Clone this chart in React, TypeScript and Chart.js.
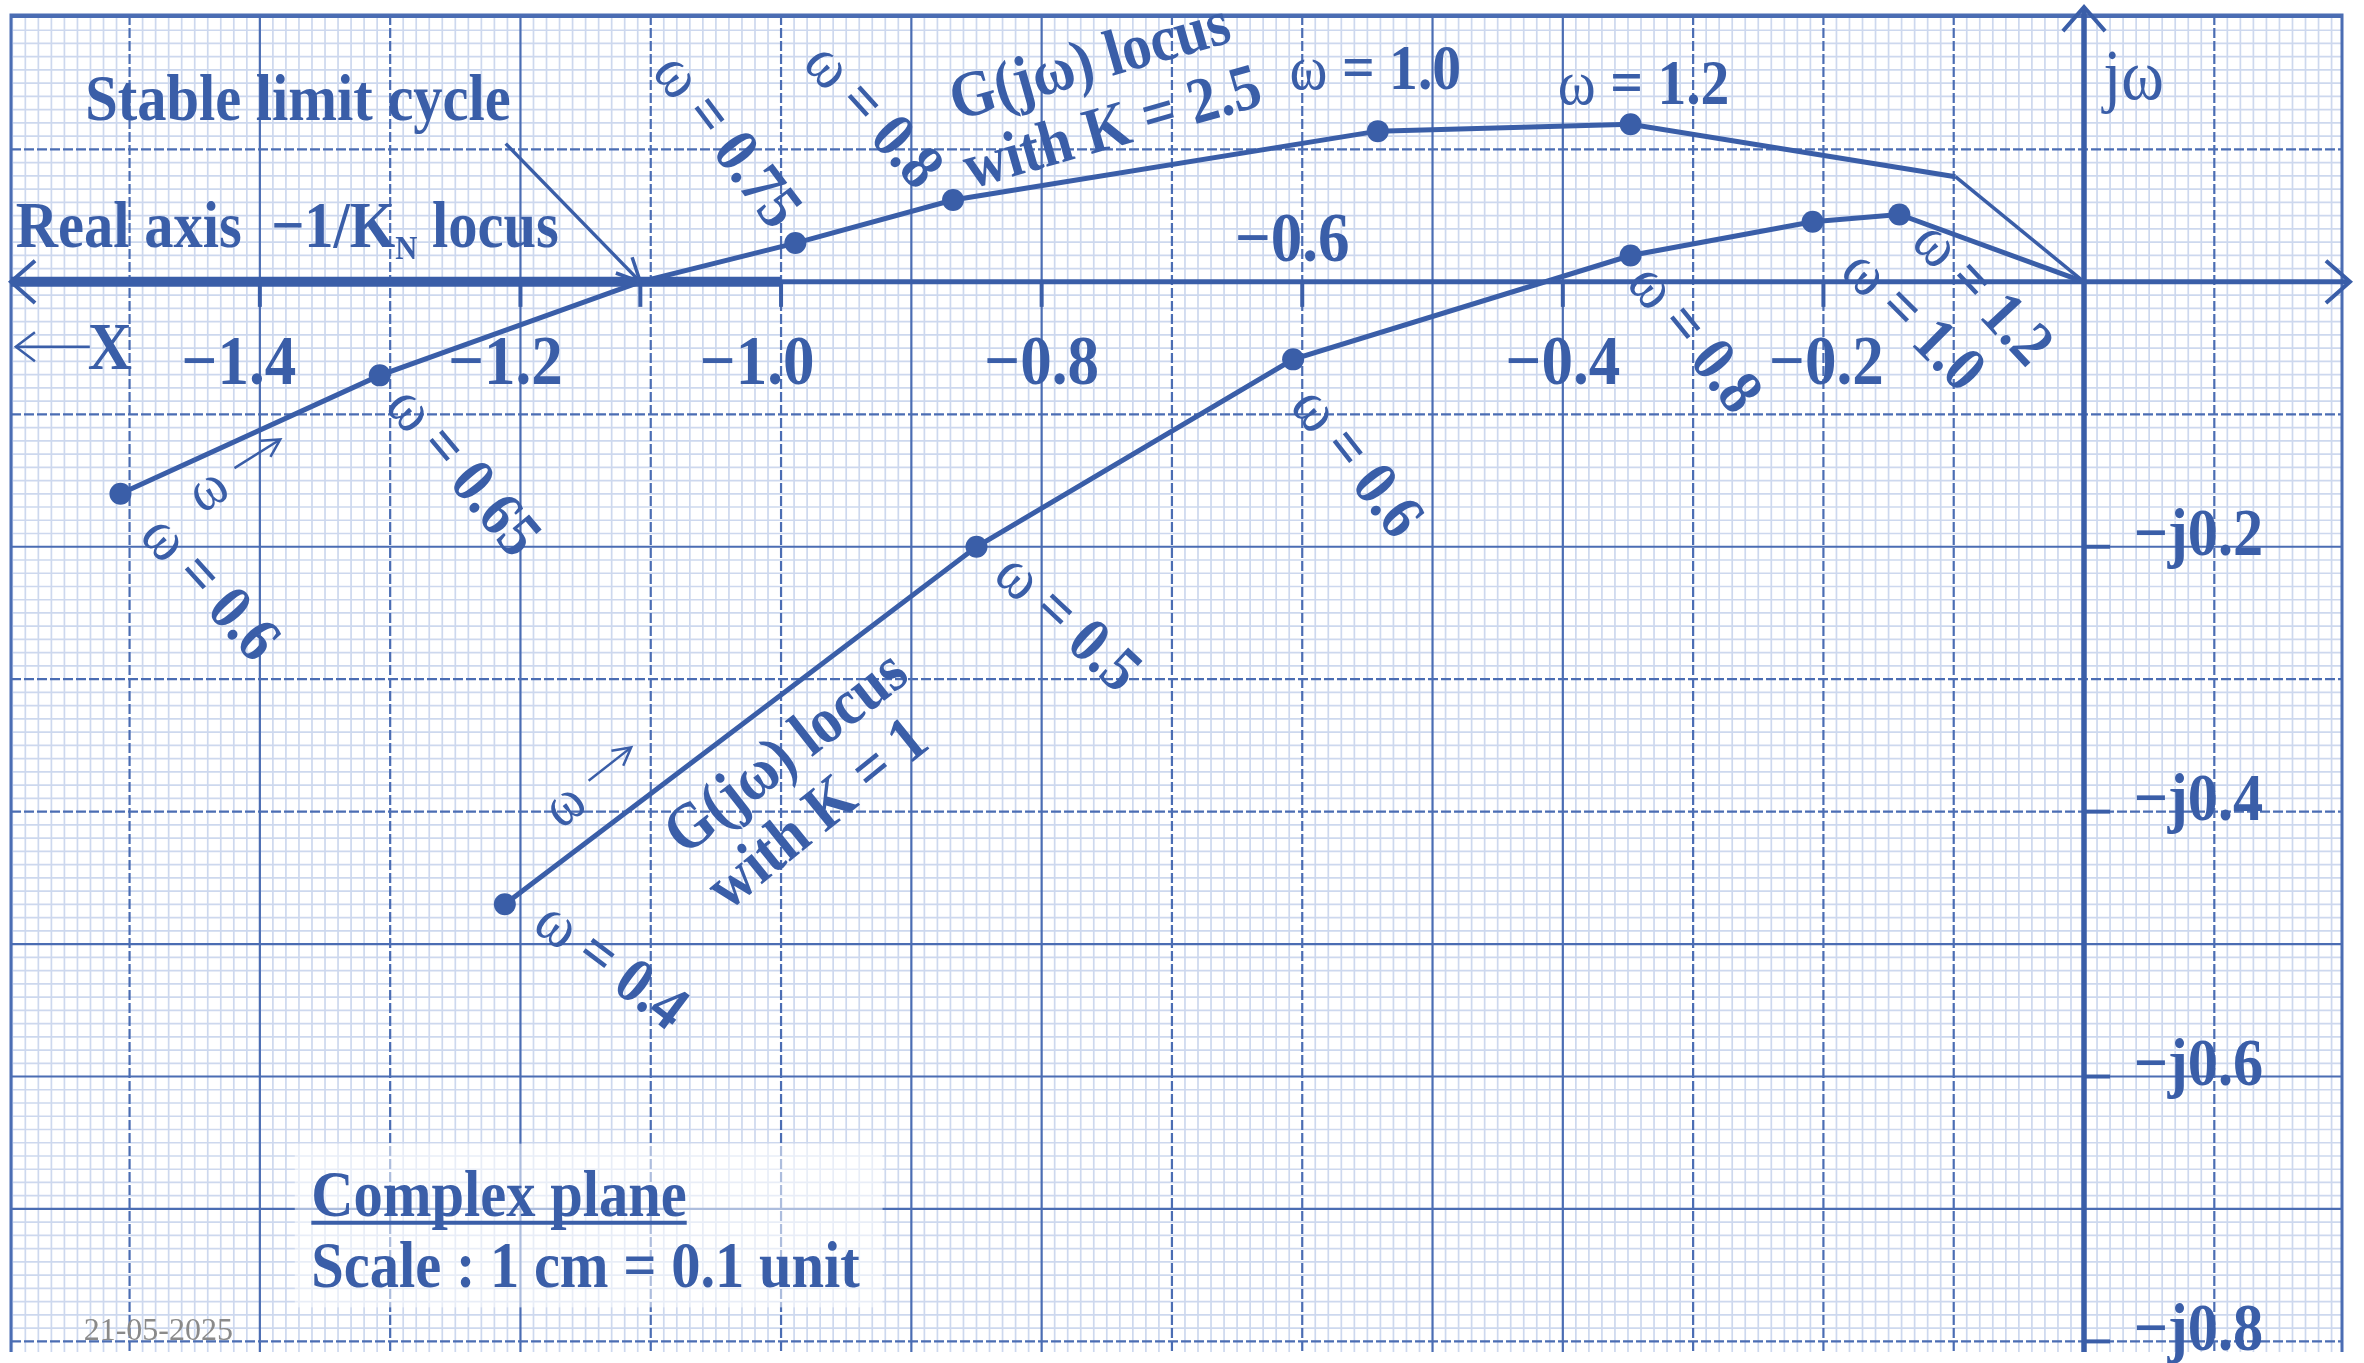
import { useEffect, useRef } from "react";
import { Chart, registerables } from "chart.js";

Chart.register(...registerables);

// Visible window of the complex plane (real part, imaginary part)
const X_MIN = -1.591;
const X_MAX = 0.198;
const Y_MIN = -0.808;
const Y_MAX = 0.2015;

// G(jω) locus with K = 2.5 (ω = 0.6 … 1.2, then on to the origin)
const k25Re = [-1.507, -1.308, -1.108, -0.989, -0.868, -0.542, -0.348, -0.0987, 0];
const k25Im = [-0.16, -0.0706, 0, 0.0293, 0.0618, 0.1138, 0.119, 0.0794, 0];
const k25Marked = [true, true, false, true, true, true, true, false, false];

// G(jω) locus with K = 1 (ω = 0.4 … 1.2, then on to the origin)
const k1Re = [-1.212, -0.85, -0.607, -0.348, -0.2083, -0.1417, 0];
const k1Im = [-0.47, -0.2, -0.0585, 0.0199, 0.0454, 0.0509, 0];
const k1Marked = [true, true, true, true, true, true, false];

// −1/K_N locus lies on the negative real axis up to −1
const nlRe = [-1.7, -1.0];
const nlIm = [0, 0];

// Stable limit cycle: where the K = 2.5 locus crosses the −1/K_N locus
const limitCycleIndex = 2;

// Axis ticks
const realTicks = [-1.4, -1.2, -1.0, -0.8, -0.6, -0.4, -0.2];
const realTickLabels = ["−1.4", "−1.2", "−1.0", "−0.8", "−0.6", "−0.4", "−0.2"];
const realTickAbove = [false, false, false, false, true, false, false];
const realTickNudge = [-21, -15, -24, 0, -10, 0, 3];
const imagTicks = [-0.2, -0.4, -0.6, -0.8];
const imagTickLabels = ["−j0.2", "−j0.4", "−j0.6", "−j0.8"];

// Major grid lines drawn dashed (in tenths)
const dashedCols = [-15, -13, -11, -10, -7, -6, -3, -2, -1, 1];
const dashedRows = [1, -1, -3, -4, -8];

// Frequency annotations: text, anchor (re, im), rotation in degrees
const omegaLabels: [string, number, number, number][] = [
  ["0.6", -1.4368, -0.2298, 48],
  ["0.65", -1.2426, -0.1418, 50],
  ["0.75", -1.0401, 0.1078, 53],
  ["0.8", -0.9279, 0.1269, 48],
  ["0.8", -0.2976, -0.0413, 51],
  ["1.0", -0.1298, -0.0277, 45],
  ["1.2", -0.0766, -0.0074, 47],
  ["0.6", -0.5567, -0.135, 52],
  ["0.5", -0.7787, -0.2558, 43],
  ["0.4", -1.1292, -0.5144, 37],
  ["1.0", -0.5439, 0.162, 0],
  ["1.2", -0.338, 0.1507, 0],
];

const BLUE = "#3a5ea8";
const MAJOR = "#4b6db3";
const MINOR = "#cdd8ee";
const SERIF = '"Liberation Serif", "Times New Roman", "DejaVu Serif", serif';
const B = (s: number) => `bold ${s}px ${SERIF}`;
const R = (s: number) => `${s}px ${SERIF}`;
// the lettering is set slightly condensed
const SQUEEZE = 0.9;
// optical drop so the glyphs sit centred on their anchor
const TEXT_DROP = 5;

type Part = { t: string; f: string; dy?: number };

function drawParts(
  ctx: CanvasRenderingContext2D,
  parts: Part[],
  x: number,
  y: number,
  angle: number,
  align: "left" | "center",
  sx: number = SQUEEZE
) {
  ctx.save();
  ctx.translate(x, y);
  ctx.rotate((angle * Math.PI) / 180);
  ctx.scale(sx, 1);
  ctx.textBaseline = "middle";
  ctx.textAlign = "left";
  const widths = parts.map((p) => {
    ctx.font = p.f;
    return ctx.measureText(p.t).width;
  });
  const total = widths.reduce((a, b) => a + b, 0);
  let cx = align === "center" ? -total / 2 : 0;
  parts.forEach((p, i) => {
    ctx.font = p.f;
    ctx.fillText(p.t, cx, (p.dy || 0) + TEXT_DROP);
    cx += widths[i];
  });
  ctx.restore();
  return total * sx;
}

function seg(ctx: CanvasRenderingContext2D, x1: number, y1: number, x2: number, y2: number) {
  ctx.beginPath();
  ctx.moveTo(x1, y1);
  ctx.lineTo(x2, y2);
  ctx.stroke();
}

function openHead(ctx: CanvasRenderingContext2D, tx: number, ty: number, fx: number, fy: number, len: number, spread: number) {
  const a = Math.atan2(ty - fy, tx - fx);
  ctx.beginPath();
  ctx.moveTo(tx - len * Math.cos(a - spread), ty - len * Math.sin(a - spread));
  ctx.lineTo(tx, ty);
  ctx.lineTo(tx - len * Math.cos(a + spread), ty - len * Math.sin(a + spread));
  ctx.stroke();
}

// "ω →" marker showing the direction of increasing frequency
function omegaArrow(ctx: CanvasRenderingContext2D, x: number, y: number, angle: number) {
  ctx.save();
  ctx.translate(x, y);
  ctx.rotate((angle * Math.PI) / 180);
  ctx.font = R(60);
  ctx.textBaseline = "middle";
  ctx.textAlign = "center";
  ctx.save();
  ctx.scale(SQUEEZE, 1);
  ctx.fillText("ω", -34 / SQUEEZE, 6);
  ctx.restore();
  ctx.lineWidth = 2.5;
  seg(ctx, 0, 0, 52, 0);
  openHead(ctx, 54, 0, 0, 0, 20, 0.5);
  ctx.restore();
}

const paperPlugin = {
  id: "graphPaper",
  beforeDatasetsDraw(chart: any) {
    const { ctx, chartArea: a } = chart;
    const xs = chart.scales.x;
    const ys = chart.scales.y;
    const X = (v: number) => xs.getPixelForValue(v);
    const Y = (v: number) => ys.getPixelForValue(v);
    ctx.save();
    ctx.fillStyle = "#ffffff";
    ctx.fillRect(0, 0, chart.width, chart.height);

    // millimetre lines
    ctx.strokeStyle = MINOR;
    ctx.lineWidth = 1.7;
    for (let i = Math.ceil(X_MIN * 100); i <= Math.floor(X_MAX * 100); i++) {
      if (i % 10 === 0) continue;
      const px = X(i / 100);
      seg(ctx, px, a.top, px, a.bottom);
    }
    for (let j = Math.ceil(Y_MIN * 100); j <= Math.floor(Y_MAX * 100); j++) {
      if (j % 10 === 0) continue;
      const py = Y(j / 100);
      seg(ctx, a.left, py, a.right, py);
    }

    // centimetre lines
    ctx.strokeStyle = MAJOR;
    ctx.lineWidth = 2.2;
    for (let i = Math.ceil(X_MIN * 10); i <= Math.floor(X_MAX * 10); i++) {
      if (i === 0) continue;
      ctx.setLineDash(dashedCols.includes(i) ? [10, 3] : []);
      const px = X(i / 10);
      seg(ctx, px, a.top, px, a.bottom);
    }
    for (let j = Math.ceil(Y_MIN * 10); j <= Math.floor(Y_MAX * 10); j++) {
      if (j === 0) continue;
      ctx.setLineDash(dashedRows.includes(j) ? [10, 3] : []);
      const py = Y(j / 10);
      seg(ctx, a.left, py, a.right, py);
    }
    ctx.setLineDash([]);

    // sheet border
    ctx.lineWidth = 3;
    ctx.beginPath();
    ctx.moveTo(a.left, a.bottom);
    ctx.lineTo(a.left, a.top);
    ctx.lineTo(a.right, a.top);
    ctx.lineTo(a.right, a.bottom);
    ctx.stroke();

    // caption backing
    ctx.fillStyle = "rgba(255,255,255,0.55)";
    const bx1 = X(-1.3732), bx2 = X(-0.9221), by1 = Y(-0.6507), by2 = Y(-0.7743);
    ctx.fillRect(bx1, by1, bx2 - bx1, by2 - by1);

    // axes
    const x0 = X(0), y0 = Y(0);
    ctx.strokeStyle = BLUE;
    ctx.lineWidth = 5;
    seg(ctx, a.left, y0, a.right + 6, y0);
    ctx.lineWidth = 4;
    openHead(ctx, a.right + 8, y0, a.left, y0, 32, 0.72);
    openHead(ctx, a.left, y0, a.right, y0, 32, 0.72);
    ctx.lineWidth = 5.5;
    seg(ctx, x0, a.bottom, x0, a.top - 7);
    ctx.lineWidth = 4;
    openHead(ctx, x0, a.top - 8, x0, a.bottom, 32, 0.72);

    // ticks
    ctx.lineWidth = 4;
    const crossRe = k25Re[limitCycleIndex];
    [...realTicks, crossRe].forEach((v) => seg(ctx, X(v), y0, X(v), y0 + 25));
    imagTicks.forEach((v) => seg(ctx, x0, Y(v), x0 + 26, Y(v)));
    ctx.restore();
  },
  afterDatasetsDraw(chart: any) {
    const { ctx } = chart;
    const xs = chart.scales.x;
    const ys = chart.scales.y;
    const X = (v: number) => xs.getPixelForValue(v);
    const Y = (v: number) => ys.getPixelForValue(v);
    const y0 = Y(0);
    ctx.save();
    ctx.fillStyle = BLUE;
    ctx.strokeStyle = BLUE;

    // tick labels
    realTicks.forEach((v, i) => {
      const ly = realTickAbove[i] ? y0 - 44 : y0 + 79;
      drawParts(ctx, [{ t: realTickLabels[i], f: B(70) }], X(v) + realTickNudge[i], ly, 0, "center");
    });
    imagTicks.forEach((v, i) => {
      drawParts(ctx, [{ t: imagTickLabels[i], f: B(67) }], X(0.0379), Y(v) - 14, 0, "left");
    });
    drawParts(ctx, [{ t: "jω", f: R(72) }], X(0.0147), Y(0.1563), 0, "left");

    // left-hand captions
    drawParts(ctx, [{ t: "Stable limit cycle", f: B(65) }], X(-1.5341), Y(0.1386), 0, "left");
    drawParts(
      ctx,
      [
        { t: "Real axis  −1/K", f: B(65) },
        { t: "N", f: B(34), dy: 20 },
        { t: " locus", f: B(65) },
      ],
      X(-1.5873),
      Y(0.0427),
      0,
      "left"
    );
    // ←X
    const ax = X(-1.5873), ay = Y(-0.049);
    ctx.lineWidth = 2.5;
    seg(ctx, ax, ay, ax + 74, ay);
    openHead(ctx, ax, ay, ax + 74, ay, 24, 0.65);
    drawParts(ctx, [{ t: "X", f: B(68) }], ax + 72, ay, 0, "left");

    // arrow to the stable limit cycle
    const sx = X(-1.2113), sy = Y(0.1044);
    const cx = X(k25Re[limitCycleIndex]), cy = Y(k25Im[limitCycleIndex]);
    ctx.lineWidth = 3.5;
    seg(ctx, sx, sy, cx, cy);
    openHead(ctx, cx, cy, sx, sy, 26, 0.45);

    // frequency labels
    omegaLabels.forEach(([w, re, im, ang]) => {
      drawParts(
        ctx,
        [
          { t: "ω", f: R(64) },
          { t: " = " + w, f: B(64) },
        ],
        X(re),
        Y(im),
        ang,
        "center"
      );
    });

    // direction of increasing ω
    omegaArrow(ctx, X(-1.4195), Y(-0.1406), -32);
    omegaArrow(ctx, X(-1.1477), Y(-0.3766), -38);

    // locus names
    drawParts(ctx, [{ t: "G(jω) locus", f: B(65) }], X(-0.7636), Y(0.1676), -16, "center");
    drawParts(ctx, [{ t: "with K = 2.5", f: B(65) }], X(-0.7463), Y(0.118), -16, "center");
    drawParts(ctx, [{ t: "G(jω) locus", f: B(65) }], X(-0.9973), Y(-0.3541), -38, "center");
    drawParts(ctx, [{ t: "with K = 1", f: B(65) }], X(-0.9731), Y(-0.4004), -39, "center");

    // caption
    const capX = X(-1.3605), capY = Y(-0.6886);
    const w = drawParts(ctx, [{ t: "Complex plane", f: B(65) }], capX, capY, 0, "left");
    ctx.lineWidth = 4;
    seg(ctx, capX, capY + 29, capX + w, capY + 29);
    drawParts(ctx, [{ t: "Scale : 1 cm = 0.1 unit", f: B(65) }], capX, Y(-0.7427), 0, "left");

    ctx.fillStyle = "#8a8a8a";
    drawParts(ctx, [{ t: "21-05-2025", f: R(32) }], X(-1.5352), Y(-0.7891), 0, "left", 1);
    ctx.restore();
  },
};

export default function App() {
  const ref = useRef<HTMLCanvasElement | null>(null);

  useEffect(() => {
    if (!ref.current) return;
    const toPts = (re: number[], im: number[]) => re.map((v, i) => ({ x: v, y: im[i] }));
    const chart = new Chart(ref.current, {
      type: "scatter",
      data: {
        datasets: [
          {
            label: "−1/K_N locus",
            data: toPts(nlRe, nlIm),
            showLine: true,
            borderColor: BLUE,
            borderWidth: 10,
            borderCapStyle: "butt",
            pointRadius: 0,
          },
          {
            label: "G(jω), K = 2.5",
            data: toPts(k25Re, k25Im),
            showLine: true,
            borderColor: BLUE,
            borderWidth: 5,
            backgroundColor: BLUE,
            pointBackgroundColor: BLUE,
            pointBorderWidth: 0,
            pointRadius: k25Marked.map((m) => (m ? 11 : 0)),
            segment: {
              borderWidth: (c: any) => (c.p1DataIndex === k25Re.length - 1 ? 3.5 : 5),
            },
          },
          {
            label: "G(jω), K = 1",
            data: toPts(k1Re, k1Im),
            showLine: true,
            borderColor: BLUE,
            borderWidth: 5,
            backgroundColor: BLUE,
            pointBackgroundColor: BLUE,
            pointBorderWidth: 0,
            pointRadius: k1Marked.map((m) => (m ? 11 : 0)),
          },
        ],
      },
      options: {
        animation: false,
        responsive: false,
        devicePixelRatio: 1,
        events: [],
        layout: { padding: { left: 10, top: 15, right: 22, bottom: 0 } },
        scales: {
          x: { type: "linear", min: X_MIN, max: X_MAX, display: false },
          y: { type: "linear", min: Y_MIN, max: Y_MAX, display: false },
        },
        plugins: { legend: { display: false }, tooltip: { enabled: false } },
      },
      plugins: [paperPlugin],
    } as any);
    return () => chart.destroy();
  }, []);

  return (
    <div style={{ position: "fixed", left: 0, top: 0, width: 2364, height: 1363, background: "#fff" }}>
      <canvas ref={ref} width={2364} height={1363} style={{ display: "block", width: 2364, height: 1363 }} />
    </div>
  );
}
